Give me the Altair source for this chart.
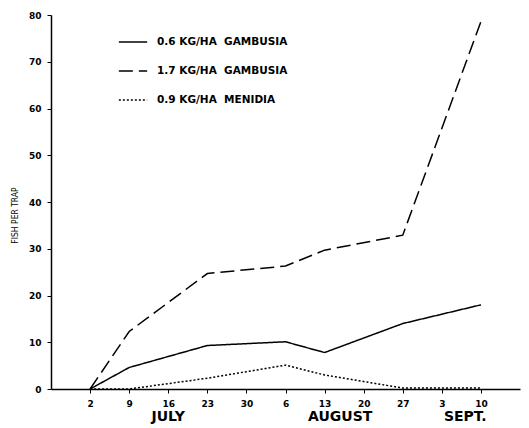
import altair as alt
import pandas as pd

# week index: 0 = June 25 ... 1 = July 2 ... 11 = Sept 10, 12 = Sept 17
tick_labels = ["2", "9", "16", "23", "30", "6", "13", "20", "27", "3", "10"]
tick_weeks = list(range(1, 12))

NB = "\u00a0"
series_names = ["0.6 KG/HA" + NB * 2 + "GAMBUSIA",
                "1.7 KG/HA" + NB * 2 + "GAMBUSIA",
                "0.9 KG/HA" + NB * 2 + "MENIDIA"]
weeks = [1, 2, 4, 6, 7, 9, 11]
gamb_06 = [0, 4.6, 9.3, 10.1, 7.8, 14.0, 18.0]
gamb_17 = [0, 12.3, 24.7, 26.3, 29.7, 32.9, 78.6]
menidia = [0, 0, 2.3, 5.1, 3.0, 0.2, 0.2]

months = ["JULY", "AUGUST", "SEPT."]
month_pos = [3.0, 7.4, 10.6]

rows = []
for name, vals in zip(series_names, [gamb_06, gamb_17, menidia]):
    for w, v in zip(weeks, vals):
        rows.append({"week": w, "fish": v, "series": name})
df = pd.DataFrame(rows)
mdf = pd.DataFrame({"month": months, "pos": month_pos})

label_arr = "[" + ",".join("'" + t + "'" for t in tick_labels) + "]"

xscale = alt.Scale(domain=[0, 12], nice=False, zero=False)

lines = alt.Chart(df).mark_line(color="black", strokeWidth=1.5).encode(
    x=alt.X("week:Q", scale=xscale,
            axis=alt.Axis(values=tick_weeks, labelExpr=label_arr + "[datum.value-1]",
                          title=None, grid=False, tickSize=4, labelPadding=6,
                          labelFont="DejaVu Sans", labelFontWeight="bold", labelFontSize=9,
                          labelColor="black", domainColor="black", tickColor="black",
                          domainWidth=1.5)),
    y=alt.Y("fish:Q", scale=alt.Scale(domain=[0, 80], nice=False),
            axis=alt.Axis(values=list(range(0, 81, 10)), title="FISH PER TRAP", grid=False,
                          tickSize=4, labelPadding=6, labelFont="DejaVu Sans",
                          labelFontWeight="bold", labelFontSize=9, labelColor="black",
                          domainColor="black", tickColor="black", domainWidth=1.5,
                          titleFont="DejaVu Sans Condensed", titleFontWeight="normal",
                          titleFontSize=8.5, titleColor="black",
                          titleX=-37, titleY=200, titleAngle=270, titleAlign="center",
                          titleBaseline="middle")),
    strokeDash=alt.StrokeDash("series:N",
        scale=alt.Scale(domain=series_names, range=[[1, 0], [14, 6], [2, 2]]),
        sort=series_names,
        legend=alt.Legend(title=None, orient="none", legendX=67, legendY=12,
                          symbolType="stroke", symbolSize=800, symbolStrokeWidth=1.3,
                          symbolStrokeColor="black", rowPadding=8,
                          labelFont="DejaVu Sans", labelFontWeight="bold",
                          labelFontSize=10.5, labelColor="black", labelOffset=9,
                          labelLimit=300)),
)

month_text = alt.Chart(mdf).mark_text(font="DejaVu Sans", fontWeight="bold", fontSize=14,
                                      color="black", baseline="middle").encode(
    x=alt.X("pos:Q", scale=xscale),
    y=alt.value(402),
    text="month:N",
)

chart = alt.layer(lines, month_text).properties(
    width=469, height=374,
    autosize=alt.AutoSizeParams(type="none"),
    padding={"left": 43, "top": 7, "right": 1, "bottom": 36},
).configure_view(stroke=None)

chart.save("out.html", embed_options={"renderer": "svg", "actions": False})
